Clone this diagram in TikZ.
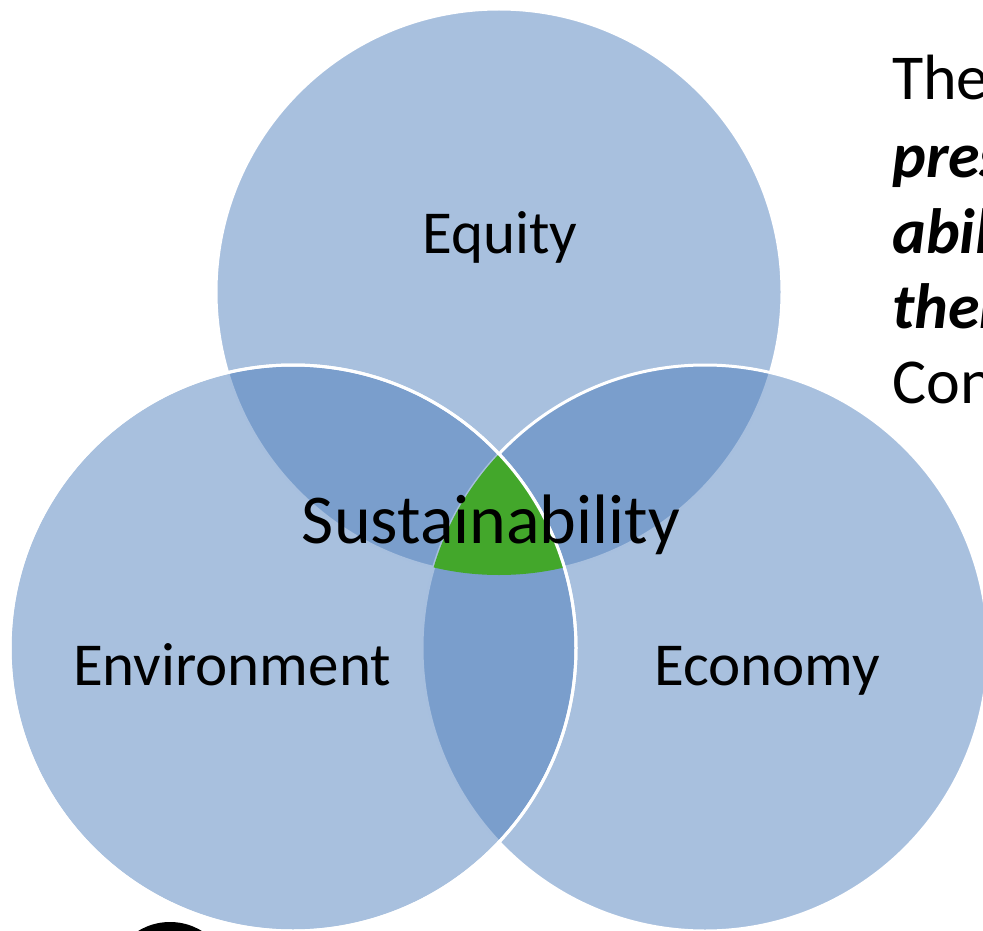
\documentclass[tikz,border=0pt]{standalone}
\usepackage{fontspec}
\setmainfont{Carlito}
\usetikzlibrary{calc, positioning}
\def\ringradius{283pt}
\def\ringline{3pt}
\definecolor{ringblue}{RGB}{70,121,185}
\definecolor{coregreen}{RGB}{67,167,43}
\tikzset{
    ring/.style = {
        fill=ringblue, fill opacity=0.47, draw=white, draw opacity=1, line width=\ringline
    },
    ringlabel/.style = {
        anchor=base, inner sep=0pt, font=\fontsize{61pt}{73pt}\selectfont
    },
    corelabel/.style = {
        anchor=base, inner sep=0pt, font=\fontsize{70pt}{84pt}\selectfont
    },
    quoteline/.style = {
        anchor=base west, inner sep=0pt, font=\fontsize{64pt}{76pt}\selectfont
    },
}

\begin{document}
\begin{tikzpicture}[x=1pt, y=-1pt]
        % Fix the page
        \useasboundingbox (0,0) rectangle (983,931);
        \clip (0,0) rectangle (983,931);
        % Place the circles
        \coordinate (top) at (499,292);
        \coordinate (left) at (293,648);
        \coordinate (right) at (705,648);
        \path[ring] (top) circle (\ringradius);
        \path[ring] (right) circle (\ringradius);
        \path[ring] (left) circle (\ringradius);
        % Fill the common part
        \begin{scope}
            \clip (top) circle (\ringradius);
            \clip (left) circle (\ringradius);
            \fill[coregreen] (right) circle (\ringradius);
        \end{scope}
        \draw[white, line width=\ringline] (left) circle (\ringradius);
        % Labels
        \node[ringlabel] (equity) at (500,253) {Equity};
        \node[ringlabel] (environment) at (232,685) {Environment};
        \node[ringlabel] (economy) at (767,685) {Economy};
        \node[corelabel] (sustainability) at (491,543) {Sustainability};
        % Text on the right
        \node[quoteline] (line1) at (892,100) {The};
        \node[quoteline] (line2) at (892,178) {\bfseries\itshape pres};
        \node[quoteline] (line3) at (892,253) {\bfseries\itshape abil};
        \node[quoteline] (line4) at (892,328) {\bfseries\itshape ther};
        \node[quoteline] (line5) at (892,403) {Con};
        % Mark at the bottom
        \fill[black] (170,983) circle (61pt);
    \end{tikzpicture}
\end{document}
